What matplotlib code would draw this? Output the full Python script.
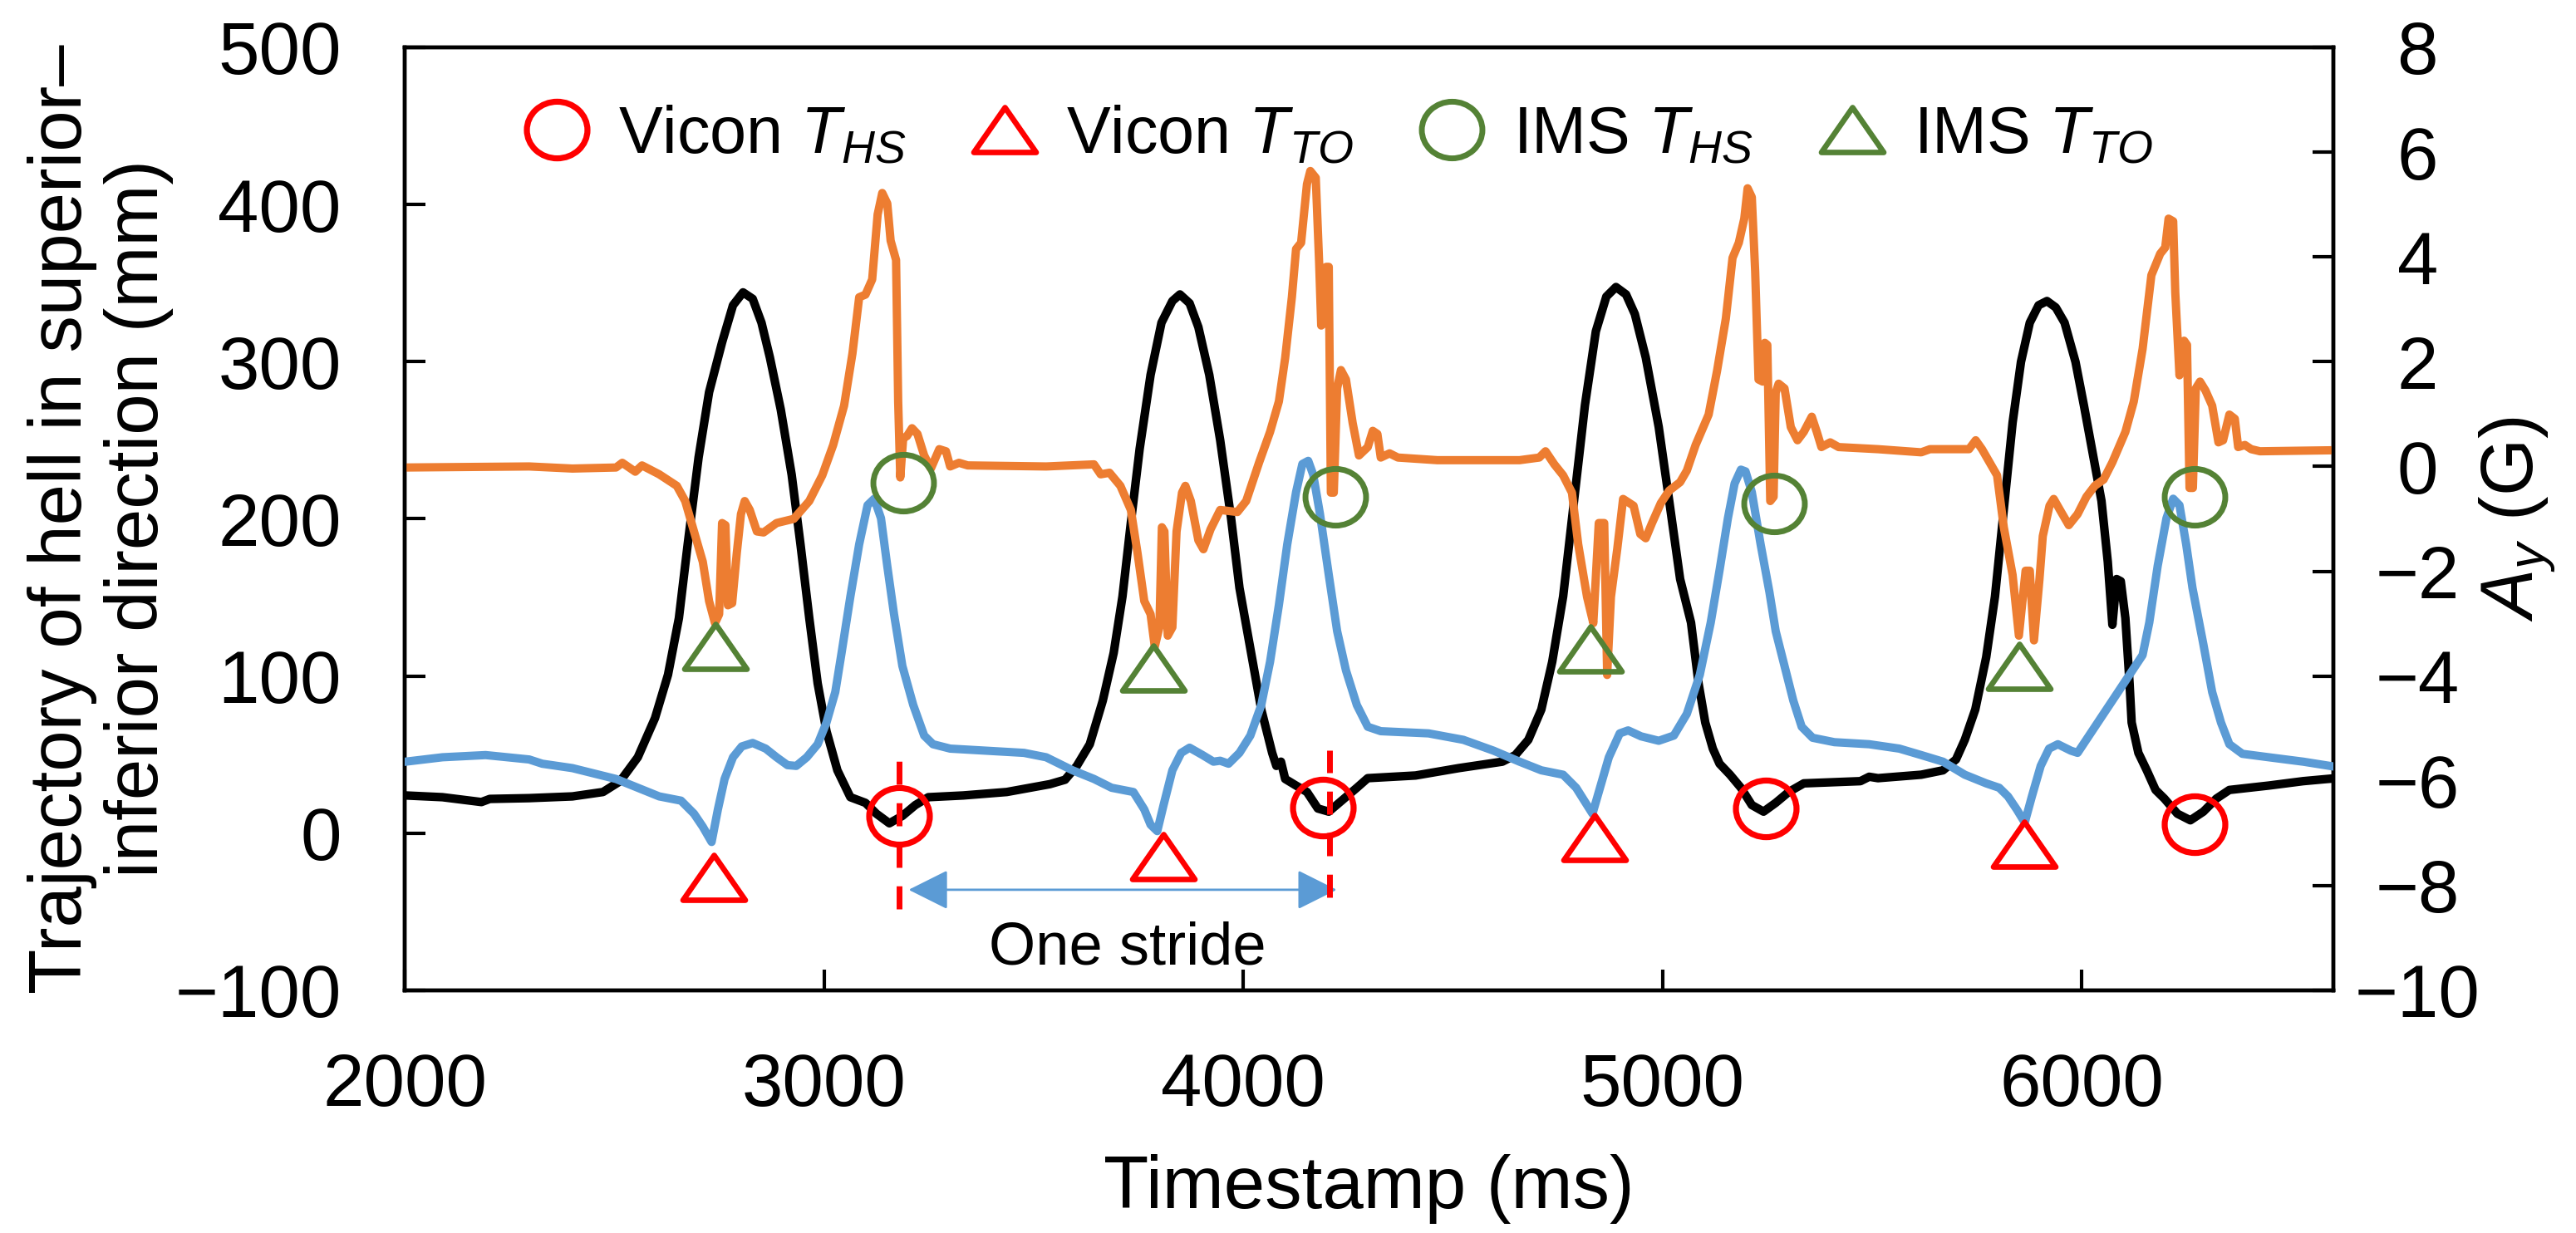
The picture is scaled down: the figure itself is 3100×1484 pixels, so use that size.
import matplotlib.pyplot as plt
from matplotlib.path import Path

plt.rcParams.update({
    "font.family": "Liberation Sans",
    "mathtext.fontset": "custom",
    "mathtext.rm": "Liberation Sans",
    "mathtext.it": "Liberation Sans:italic",
    "mathtext.bf": "Liberation Sans:bold",
})

# ---------------- data ----------------
# heel trajectory, Vicon (mm, left axis)
heel_t = [2002, 2090, 2183, 2203, 2297, 2400, 2473, 2514, 2556, 2597, 2628, 2654,
          2675, 2701, 2726, 2757, 2783, 2807, 2830, 2851, 2871, 2897, 2923, 2944,
          2965, 2985, 3006, 3032, 3063, 3099, 3125, 3156, 3187, 3218, 3249, 3332,
          3436, 3539, 3575, 3603, 3634, 3665, 3691, 3712, 3732, 3753, 3779, 3805,
          3831, 3849, 3872, 3893, 3919, 3945, 3971, 3991, 4017, 4043, 4069, 4079,
          4090, 4100, 4126, 4152, 4178, 4204, 4235, 4271, 4297, 4411, 4514, 4618,
          4649, 4680, 4711, 4737, 4763, 4789, 4815, 4841, 4866, 4889, 4913, 4934,
          4960, 4991, 5016, 5042, 5068, 5086, 5102, 5120, 5136, 5161, 5187, 5213,
          5241, 5270, 5301, 5337, 5472, 5493, 5514, 5617, 5669, 5700, 5721, 5746,
          5772, 5793, 5814, 5835, 5855, 5876, 5897, 5917, 5938, 5959, 5985, 6005,
          6026, 6047, 6062, 6073, 6083, 6093, 6104, 6114, 6119, 6135, 6155, 6176,
          6197, 6228, 6259, 6290, 6321, 6352, 6446, 6528, 6606]
heel_mm = [24.0, 22.9, 19.8, 21.8, 22.3, 23.4, 26.2, 33.1, 48.3, 73.2, 100.8, 136.8,
           183.8, 239.1, 280.6, 312.3, 335.9, 344.1, 340.0, 324.8, 302.7, 269.5, 228.0, 183.8,
           136.8, 95.3, 64.9, 40.0, 22.9, 19.3, 12.4, 6.3, 11.0, 17.9, 22.9, 24.0,
           26.2, 31.2, 34.0, 42.8, 56.6, 84.3, 114.7, 150.6, 197.6, 244.6, 291.6, 324.8,
           338.6, 342.8, 337.2, 322.0, 291.6, 250.1, 200.4, 156.1, 117.4, 78.7, 51.1, 42.8,
           45.5, 34.5, 30.3, 26.2, 15.7, 13.7, 20.7, 28.9, 35.0, 36.7, 41.4, 45.5,
           49.7, 59.4, 78.7, 109.1, 150.6, 211.4, 272.3, 319.3, 341.4, 347.5, 342.8, 330.3,
           302.7, 258.4, 211.4, 161.7, 134.0, 95.3, 70.4, 53.8, 44.2, 37.2, 28.9, 17.9,
           13.7, 19.3, 26.2, 31.7, 33.1, 35.9, 35.0, 37.2, 40.0, 46.9, 59.4, 78.7,
           111.9, 150.6, 205.9, 261.2, 299.9, 324.8, 335.9, 338.6, 334.5, 324.8, 299.9, 272.3,
           241.8, 211.4, 172.7, 132.6, 161.7, 160.3, 136.8, 95.3, 70.4, 51.1, 40.0, 27.5,
           22.0, 12.4, 8.2, 13.7, 22.0, 27.5, 30.3, 33.1, 35.0]

# toe trajectory, Vicon (mm, left axis)
toe_t = [2002, 2090, 2193, 2297, 2328, 2400, 2504, 2556, 2607, 2659, 2690, 2711,
         2732, 2747, 2763, 2783, 2804, 2830, 2861, 2887, 2913, 2934, 2959, 2985,
         3006, 3027, 3042, 3063, 3084, 3104, 3120, 3136, 3151, 3167, 3187, 3213,
         3239, 3260, 3301, 3384, 3477, 3530, 3593, 3644, 3686, 3738, 3764, 3779,
         3795, 3810, 3831, 3852, 3872, 3903, 3929, 3945, 3965, 3991, 4017, 4043,
         4064, 4085, 4105, 4126, 4141, 4155, 4167, 4183, 4204, 4224, 4245, 4271,
         4297, 4328, 4442, 4525, 4597, 4659, 4711, 4763, 4794, 4820, 4833, 4851,
         4872, 4898, 4918, 4949, 4991, 5027, 5058, 5089, 5115, 5136, 5156, 5172,
         5187, 5198, 5213, 5234, 5255, 5270, 5291, 5312, 5332, 5358, 5410, 5493,
         5565, 5617, 5669, 5721, 5772, 5803, 5824, 5845, 5864, 5881, 5902, 5922,
         5943, 5974, 5990, 6145, 6161, 6181, 6202, 6218, 6233, 6249, 6264, 6290,
         6311, 6332, 6352, 6383, 6446, 6528, 6606]
toe_mm = [45.5, 48.3, 49.7, 46.9, 44.2, 41.4, 34.5, 28.9, 23.4, 20.7, 12.4, 4.1,
          -5.6, 15.1, 34.5, 48.3, 55.2, 57.4, 53.8, 48.3, 43.3, 42.8, 48.3, 56.6,
          70.4, 89.8, 114.7, 150.6, 183.8, 208.7, 212.8, 200.4, 170.0, 139.5, 106.4, 81.5,
          62.1, 56.6, 53.8, 52.5, 51.1, 48.3, 40.0, 34.5, 28.9, 26.2, 15.1, 5.4,
          1.3, 17.9, 40.0, 51.1, 54.4, 49.7, 45.5, 46.1, 44.2, 51.1, 62.1, 81.5,
          109.1, 145.1, 183.8, 217.0, 234.9, 236.9, 228.0, 203.1, 164.4, 128.5, 103.6, 81.5,
          67.7, 64.9, 63.5, 59.4, 52.5, 45.5, 40.0, 37.2, 28.9, 17.9, 12.4, 28.9,
          48.3, 63.5, 65.4, 61.6, 58.8, 62.1, 75.9, 100.8, 134.0, 167.2, 200.4, 222.5,
          231.3, 230.2, 217.0, 183.8, 153.4, 128.5, 106.4, 84.3, 67.7, 60.7, 57.9, 56.6,
          53.8, 49.7, 45.5, 37.2, 31.7, 28.9, 23.4, 15.1, 6.8, 23.4, 42.8, 53.8,
          56.6, 52.5, 51.1, 113.3, 134.0, 170.0, 200.4, 212.8, 208.7, 183.8, 156.1, 120.2,
          89.8, 70.4, 56.6, 50.5, 48.3, 45.5, 42.2]

# IMS acceleration A_y (G, right axis)
acc_t = [2002, 2297, 2400, 2504, 2519, 2550, 2566, 2607, 2649, 2669, 2690, 2711,
         2726, 2740, 2750, 2757, 2765, 2771, 2781, 2792, 2802, 2811, 2823, 2840,
         2856, 2887, 2928, 2965, 2996, 3022, 3048, 3068, 3084, 3099, 3115, 3128,
         3139, 3151, 3159, 3172, 3177, 3182, 3189, 3198, 3210, 3223, 3239, 3255,
         3275, 3291, 3301, 3322, 3343, 3530, 3644, 3660, 3681, 3707, 3732, 3748,
         3764, 3779, 3789, 3800, 3806, 3812, 3820, 3831, 3841, 3854, 3862, 3875,
         3893, 3905, 3922, 3945, 3986, 4007, 4038, 4064, 4085, 4100, 4116, 4126,
         4138, 4152, 4160, 4173, 4181, 4186, 4193, 4198, 4204, 4209, 4216, 4224,
         4233, 4245, 4261, 4276, 4297, 4309, 4320, 4328, 4349, 4369, 4463, 4659,
         4706, 4721, 4742, 4763, 4784, 4799, 4820, 4835, 4848, 4861, 4868, 4877,
         4892, 4906, 4931, 4947, 4960, 4975, 4996, 5016, 5042, 5058, 5079, 5110,
         5130, 5151, 5167, 5182, 5195, 5203, 5213, 5221, 5229, 5239, 5244, 5250,
         5257, 5265, 5270, 5277, 5291, 5306, 5322, 5337, 5356, 5368, 5379, 5400,
         5420, 5514, 5617, 5638, 5731, 5747, 5762, 5783, 5798, 5814, 5835, 5850,
         5866, 5876, 5886, 5899, 5907, 5923, 5933, 5948, 5969, 5990, 6011, 6031,
         6052, 6073, 6104, 6124, 6145, 6166, 6187, 6199, 6207, 6218, 6223, 6233,
         6244, 6251, 6257, 6265, 6272, 6282, 6295, 6311, 6326, 6337, 6352, 6365,
         6373, 6389, 6404, 6425, 6606]
acc_g = [-0.02, 0.0, -0.04, -0.02, 0.07, -0.10, 0.02, -0.15, -0.37, -0.66, -1.24, -1.82,
         -2.57, -2.99, -2.82, -1.08, -1.12, -2.65, -2.61, -1.66, -0.91, -0.66, -0.83, -1.24,
         -1.26, -1.08, -1.00, -0.66, -0.17, 0.41, 1.16, 2.16, 3.23, 3.28, 3.57, 4.81,
         5.22, 5.02, 4.31, 3.94, 1.24, -0.21, 0.54, 0.58, 0.73, 0.62, 0.21, -0.04,
         0.33, 0.29, 0.0, 0.07, 0.02, 0.0, 0.04, -0.15, -0.12, -0.37, -0.83, -1.66,
         -2.57, -2.82, -3.44, -3.07, -1.16, -1.24, -3.23, -3.07, -1.24, -0.50, -0.37, -0.66,
         -1.41, -1.58, -1.20, -0.83, -0.87, -0.66, 0.08, 0.66, 1.24, 2.07, 3.23, 4.15,
         4.27, 5.39, 5.64, 5.51, 3.90, 2.69, 2.74, 3.81, 3.81, -0.50, -0.50, 1.49,
         1.84, 1.66, 0.83, 0.21, 0.37, 0.68, 0.62, 0.17, 0.25, 0.17, 0.12, 0.12,
         0.17, 0.29, 0.04, -0.17, -0.50, -1.49, -2.49, -2.99, -1.08, -1.08, -3.98, -2.49,
         -1.58, -0.62, -0.75, -1.29, -1.37, -1.08, -0.70, -0.46, -0.30, -0.08, 0.41, 0.99,
         1.82, 2.82, 3.98, 4.27, 4.73, 5.31, 5.14, 3.73, 1.66, 1.62, 2.36, 2.32,
         -0.66, -0.58, 1.41, 1.58, 1.49, 0.75, 0.50, 0.66, 0.95, 0.66, 0.37, 0.46,
         0.37, 0.33, 0.27, 0.33, 0.33, 0.50, 0.33, 0.04, -0.17, -1.16, -2.07, -3.23,
         -1.99, -1.99, -3.32, -2.16, -1.33, -0.75, -0.62, -0.83, -1.12, -0.91, -0.58, -0.37,
         -0.25, 0.08, 0.66, 1.24, 2.24, 3.65, 4.06, 4.18, 4.73, 4.68, 3.32, 1.74,
         2.40, 2.32, -0.41, -0.41, 1.49, 1.62, 1.45, 1.16, 0.46, 0.50, 0.99, 0.91,
         0.37, 0.41, 0.33, 0.29, 0.31]

# gait events (mm on the left axis)
vicon_hs_t = [3179, 4191, 5246, 6269]
vicon_hs_mm = [11.0, 16.5, 15.8, 5.5]
vicon_to_t = [2737, 3810, 4838, 5863]
vicon_to_mm = [-28, -15, -3, -7]
ims_hs_t = [3190, 4219, 5267, 6269]
ims_hs_mm = [223, 214, 210, 214]
ims_to_t = [2742, 3785, 4828, 5851]
ims_to_mm = [119, 105, 117, 106]

# one stride annotation
stride_t = [3180, 4205]
stride_lo = [-48, -41]
stride_hi = [47, 53]
arrow_start, arrow_end, arrow_mm = 3202, 4223, -36
stride_text_t, stride_text_mm = 3723, -83.6

x_ticks = [2000, 3000, 4000, 5000, 6000]
mm_ticks = [-100, 0, 100, 200, 300, 400, 500]
g_ticks = [-10, -8, -6, -4, -2, 0, 2, 4, 6, 8]
g_labels = [str(v).replace("-", "\u2212") for v in g_ticks]

# ---------------- style ----------------
BLACK = "#000000"
ORANGE = "#ED7D31"
BLUE = "#5B9BD5"
RED = "#FF0000"
GREEN = "#548235"

circ = Path(Path.unit_circle().vertices * [1.0, 0.935], Path.unit_circle().codes)
tri = Path([(-1, -0.72), (1, -0.72), (0, 0.72), (-1, -0.72)],
           [Path.MOVETO, Path.LINETO, Path.LINETO, Path.CLOSEPOLY])

fig = plt.figure(figsize=(31, 14.84), dpi=100)
ax1 = fig.add_axes([0.1571, 0.1968, 0.7487, 0.7648])
ax2 = ax1.twinx()
ax1.set_zorder(ax2.get_zorder() + 1)
ax1.patch.set_visible(False)

ax1.set_xlim(2000, 6600)
ax1.set_ylim(-100, 500)
ax2.set_ylim(-10, 8)

# orange goes through the right axis scale but is layered with the other lines
ax1.plot(heel_t, heel_mm, color=BLACK, lw=7.4, solid_joinstyle="round", zorder=2)
ax1.plot(acc_t, acc_g, color=ORANGE, lw=7.2, solid_joinstyle="round", zorder=2.5,
         transform=ax2.transData)
ax1.plot(toe_t, toe_mm, color=BLUE, lw=7.2, solid_joinstyle="round", zorder=3)

ax1.vlines(stride_t, stride_lo, stride_hi, colors=RED, lw=5,
           linestyles=[(0, (4.0, 3.2))], zorder=4)
ax1.annotate("", xy=(arrow_end, arrow_mm), xytext=(arrow_start, arrow_mm),
             arrowprops=dict(arrowstyle="<|-|>,head_length=0.4,head_width=0.2",
                             mutation_scale=75, color=BLUE, lw=2,
                             shrinkA=0, shrinkB=0))
ax1.text(stride_text_t, stride_text_mm, "One stride", ha="center", va="baseline",
         fontsize=52)

mk = dict(linestyle="none", markerfacecolor="none", zorder=5)
ax1.plot(vicon_hs_t, vicon_hs_mm, marker=circ, ms=52.5, mew=5.2, markeredgecolor=RED,
         label="Vicon $T_{HS}$", **mk)
ax1.plot(vicon_to_t, vicon_to_mm, marker=tri, ms=54, mew=4.8, markeredgecolor=RED,
         label="Vicon $T_{TO}$", **mk)
ax1.plot(ims_hs_t, ims_hs_mm, marker=circ, ms=52.5, mew=5.0, markeredgecolor=GREEN,
         label="IMS $T_{HS}$", **mk)
ax1.plot(ims_to_t, ims_to_mm, marker=tri, ms=54, mew=4.8, markeredgecolor=GREEN,
         label="IMS $T_{TO}$", **mk)

ax1.legend(loc="center left", bbox_to_anchor=(0.062, 0.906), ncol=4, frameon=False,
           fontsize=57, handlelength=1.0, handletextpad=0.43, columnspacing=1.0,
           borderpad=0, borderaxespad=0)

# ---------------- axes ----------------
ax1.set_xlim(2000, 6600)
ax1.set_ylim(-100, 500)
ax1.set_xticks(x_ticks)
ax1.set_yticks(mm_ticks)
ax2.set_yticks(g_ticks, g_labels, ha="center")

ax1.tick_params(axis="x", direction="in", length=18, width=3, labelsize=64, pad=53)
ax1.tick_params(axis="y", direction="in", length=18, width=3, labelsize=64, pad=55)
ax2.tick_params(axis="y", direction="in", length=18, width=3, labelsize=64, pad=73)

for ax in (ax1, ax2):
    for s in ax.spines.values():
        s.set_linewidth(3.2)

ax1.set_xlabel("Timestamp (ms)", fontsize=64)
ax1.xaxis.set_label_coords(0.5, -0.174)
ax1.set_ylabel("Trajectory of hell in superior\u2013\ninferior direction (mm)",
               fontsize=64, linespacing=1.12)
ax1.yaxis.set_label_coords(-0.1198, 0.5)
ax2.set_ylabel("$A_y$ (G)", fontsize=64)
ax2.yaxis.set_label_coords(1.0745, 0.5)

fig.savefig("out.png", dpi=100)
